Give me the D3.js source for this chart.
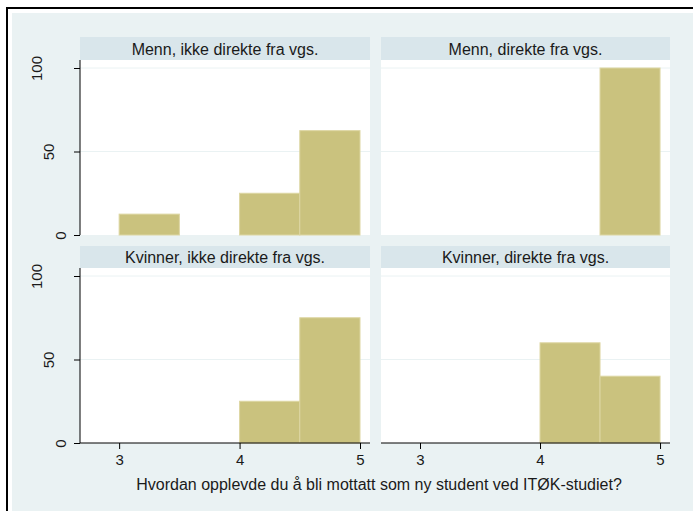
<!DOCTYPE html>
<html>
<head>
<meta charset="utf-8">
<script src="https://cdn.jsdelivr.net/npm/d3@7"></script>
<style>
  body { margin: 0; background: #fff; }
  svg { display: block; font-family: "Liberation Sans", Arial, sans-serif; }
</style>
</head>
<body>
<div id="chart"></div>
<script>
// histogram bins (width 0.5), percent per panel
var binStarts = [3, 3.5, 4, 4.5],
    binWidth = 0.5,
    xTicks = [3, 4, 5],
    yTicks = [0, 50, 100]

var panelTitles = [
  "Menn, ikke direkte fra vgs.",
  "Menn, direkte fra vgs.",
  "Kvinner, ikke direkte fra vgs.",
  "Kvinner, direkte fra vgs."
]
var mennIkkeDirekte = [12.5, 0, 25, 62.5],
    mennDirekte = [0, 0, 0, 100],
    kvinnerIkkeDirekte = [0, 0, 25, 75],
    kvinnerDirekte = [0, 0, 60, 40]

var xTitle = "Hvordan opplevde du å bli mottatt som ny student ved ITØK-studiet?"

var width = 693,
    height = 511

var bg = "#EAF2F3",
    stripColor = "#D9E6EB",
    barFill = "#CAC27E",
    barStroke = "#DDD6A2"

var panels = [
  {title: panelTitles[0], values: mennIkkeDirekte, col: 0, row: 0},
  {title: panelTitles[1], values: mennDirekte, col: 1, row: 0},
  {title: panelTitles[2], values: kvinnerIkkeDirekte, col: 0, row: 1},
  {title: panelTitles[3], values: kvinnerDirekte, col: 1, row: 1}
]

// panel geometry
var cols = [[80, 370], [381, 670]],
    rows = [{strip: 37, top: 60, bottom: 235}, {strip: 246, top: 268, bottom: 443}]

var svg = d3.select("#chart").append("svg")
    .attr("width", width)
    .attr("height", height)

// outer frame + graph region
svg.append("rect")
    .attr("x", 7).attr("y", 8)
    .attr("width", width + 20).attr("height", height + 20)
    .attr("fill", "#fff")
    .attr("stroke", "#000")
    .attr("stroke-width", 2)
svg.append("rect")
    .attr("x", 12).attr("y", 13)
    .attr("width", width).attr("height", height)
    .attr("fill", bg)

panels.forEach(function(p) {
  var c = cols[p.col], r = rows[p.row]

  var x = d3.scaleLinear().domain([2.675, 5.083]).range(c)
  var y = d3.scaleLinear().domain([0, 104.8]).range([r.bottom, r.top])

  var g = svg.append("g")

  // strip
  g.append("rect")
      .attr("x", c[0]).attr("y", r.strip)
      .attr("width", c[1] - c[0]).attr("height", r.top - r.strip)
      .attr("fill", stripColor)
  g.append("text")
      .attr("x", (c[0] + c[1]) / 2)
      .attr("y", r.top - 5.5)
      .attr("text-anchor", "middle")
      .attr("font-size", 16)
      .attr("fill", "#1a1a1a")
      .text(p.title)

  // plot region
  g.append("rect")
      .attr("x", c[0]).attr("y", r.top)
      .attr("width", c[1] - c[0]).attr("height", r.bottom - r.top)
      .attr("fill", "#fff")

  // grid
  g.selectAll("line.grid")
      .data(yTicks.filter(function(d) { return d > 0 }))
    .enter().append("line")
      .attr("class", "grid")
      .attr("x1", c[0]).attr("x2", c[1])
      .attr("y1", function(d) { return y(d) }).attr("y2", function(d) { return y(d) })
      .attr("stroke", bg)
      .attr("stroke-width", 1)

  // bars
  g.selectAll("rect.bar")
      .data(binStarts.map(function(b, i) { return {x0: b, v: p.values[i]} }).filter(function(d) { return d.v > 0 }))
    .enter().append("rect")
      .attr("class", "bar")
      .attr("x", function(d) { return x(d.x0) })
      .attr("width", function(d) { return x(d.x0 + binWidth) - x(d.x0) })
      .attr("y", function(d) { return y(d.v) })
      .attr("height", function(d) { return y(0) - y(d.v) })
      .attr("fill", barFill)
      .attr("stroke", barStroke)
      .attr("stroke-width", 1)

  // y axis on left column
  if (p.col == 0) {
    var ya = g.append("g").attr("transform", "translate(" + c[0] + ",0)")
      .call(d3.axisLeft(y).tickValues(yTicks).tickSize(6).tickFormat(d3.format("d")))
    ya.select(".domain").attr("d", "M0," + r.top + "V" + r.bottom).attr("stroke", "#000")
    ya.selectAll(".tick line").attr("stroke", "#000")
    ya.selectAll(".tick text")
        .attr("font-size", 15)
        .attr("fill", "#1a1a1a")
        .attr("font-family", "Liberation Sans, Arial, sans-serif")
        .attr("text-anchor", "middle")
        .attr("x", null)
        .attr("dy", "0.35em")
        .each(function() {
          var w = this.getComputedTextLength()
          d3.select(this).attr("transform", "translate(" + (73 - 1.44 * w - c[0]) + ",0) rotate(-90)")
        })
  }

  // x axis on bottom row
  if (p.row == 1) {
    var xa = g.append("g").attr("transform", "translate(0," + r.bottom + ")")
      .call(d3.axisBottom(x).tickValues(xTicks).tickSize(6).tickPadding(5).tickFormat(d3.format("d")))
    xa.select(".domain").attr("d", "M" + c[0] + ",0H" + c[1]).attr("stroke", "#000")
    xa.selectAll(".tick line").attr("stroke", "#000")
    xa.selectAll(".tick text")
        .attr("font-size", 15)
        .attr("fill", "#1a1a1a")
        .attr("font-family", "Liberation Sans, Arial, sans-serif")
  }
})

svg.append("text")
    .attr("x", 379)
    .attr("y", 490)
    .attr("text-anchor", "middle")
    .attr("font-size", 16)
    .attr("fill", "#1a1a1a")
    .text(xTitle)
</script>
</body>
</html>
